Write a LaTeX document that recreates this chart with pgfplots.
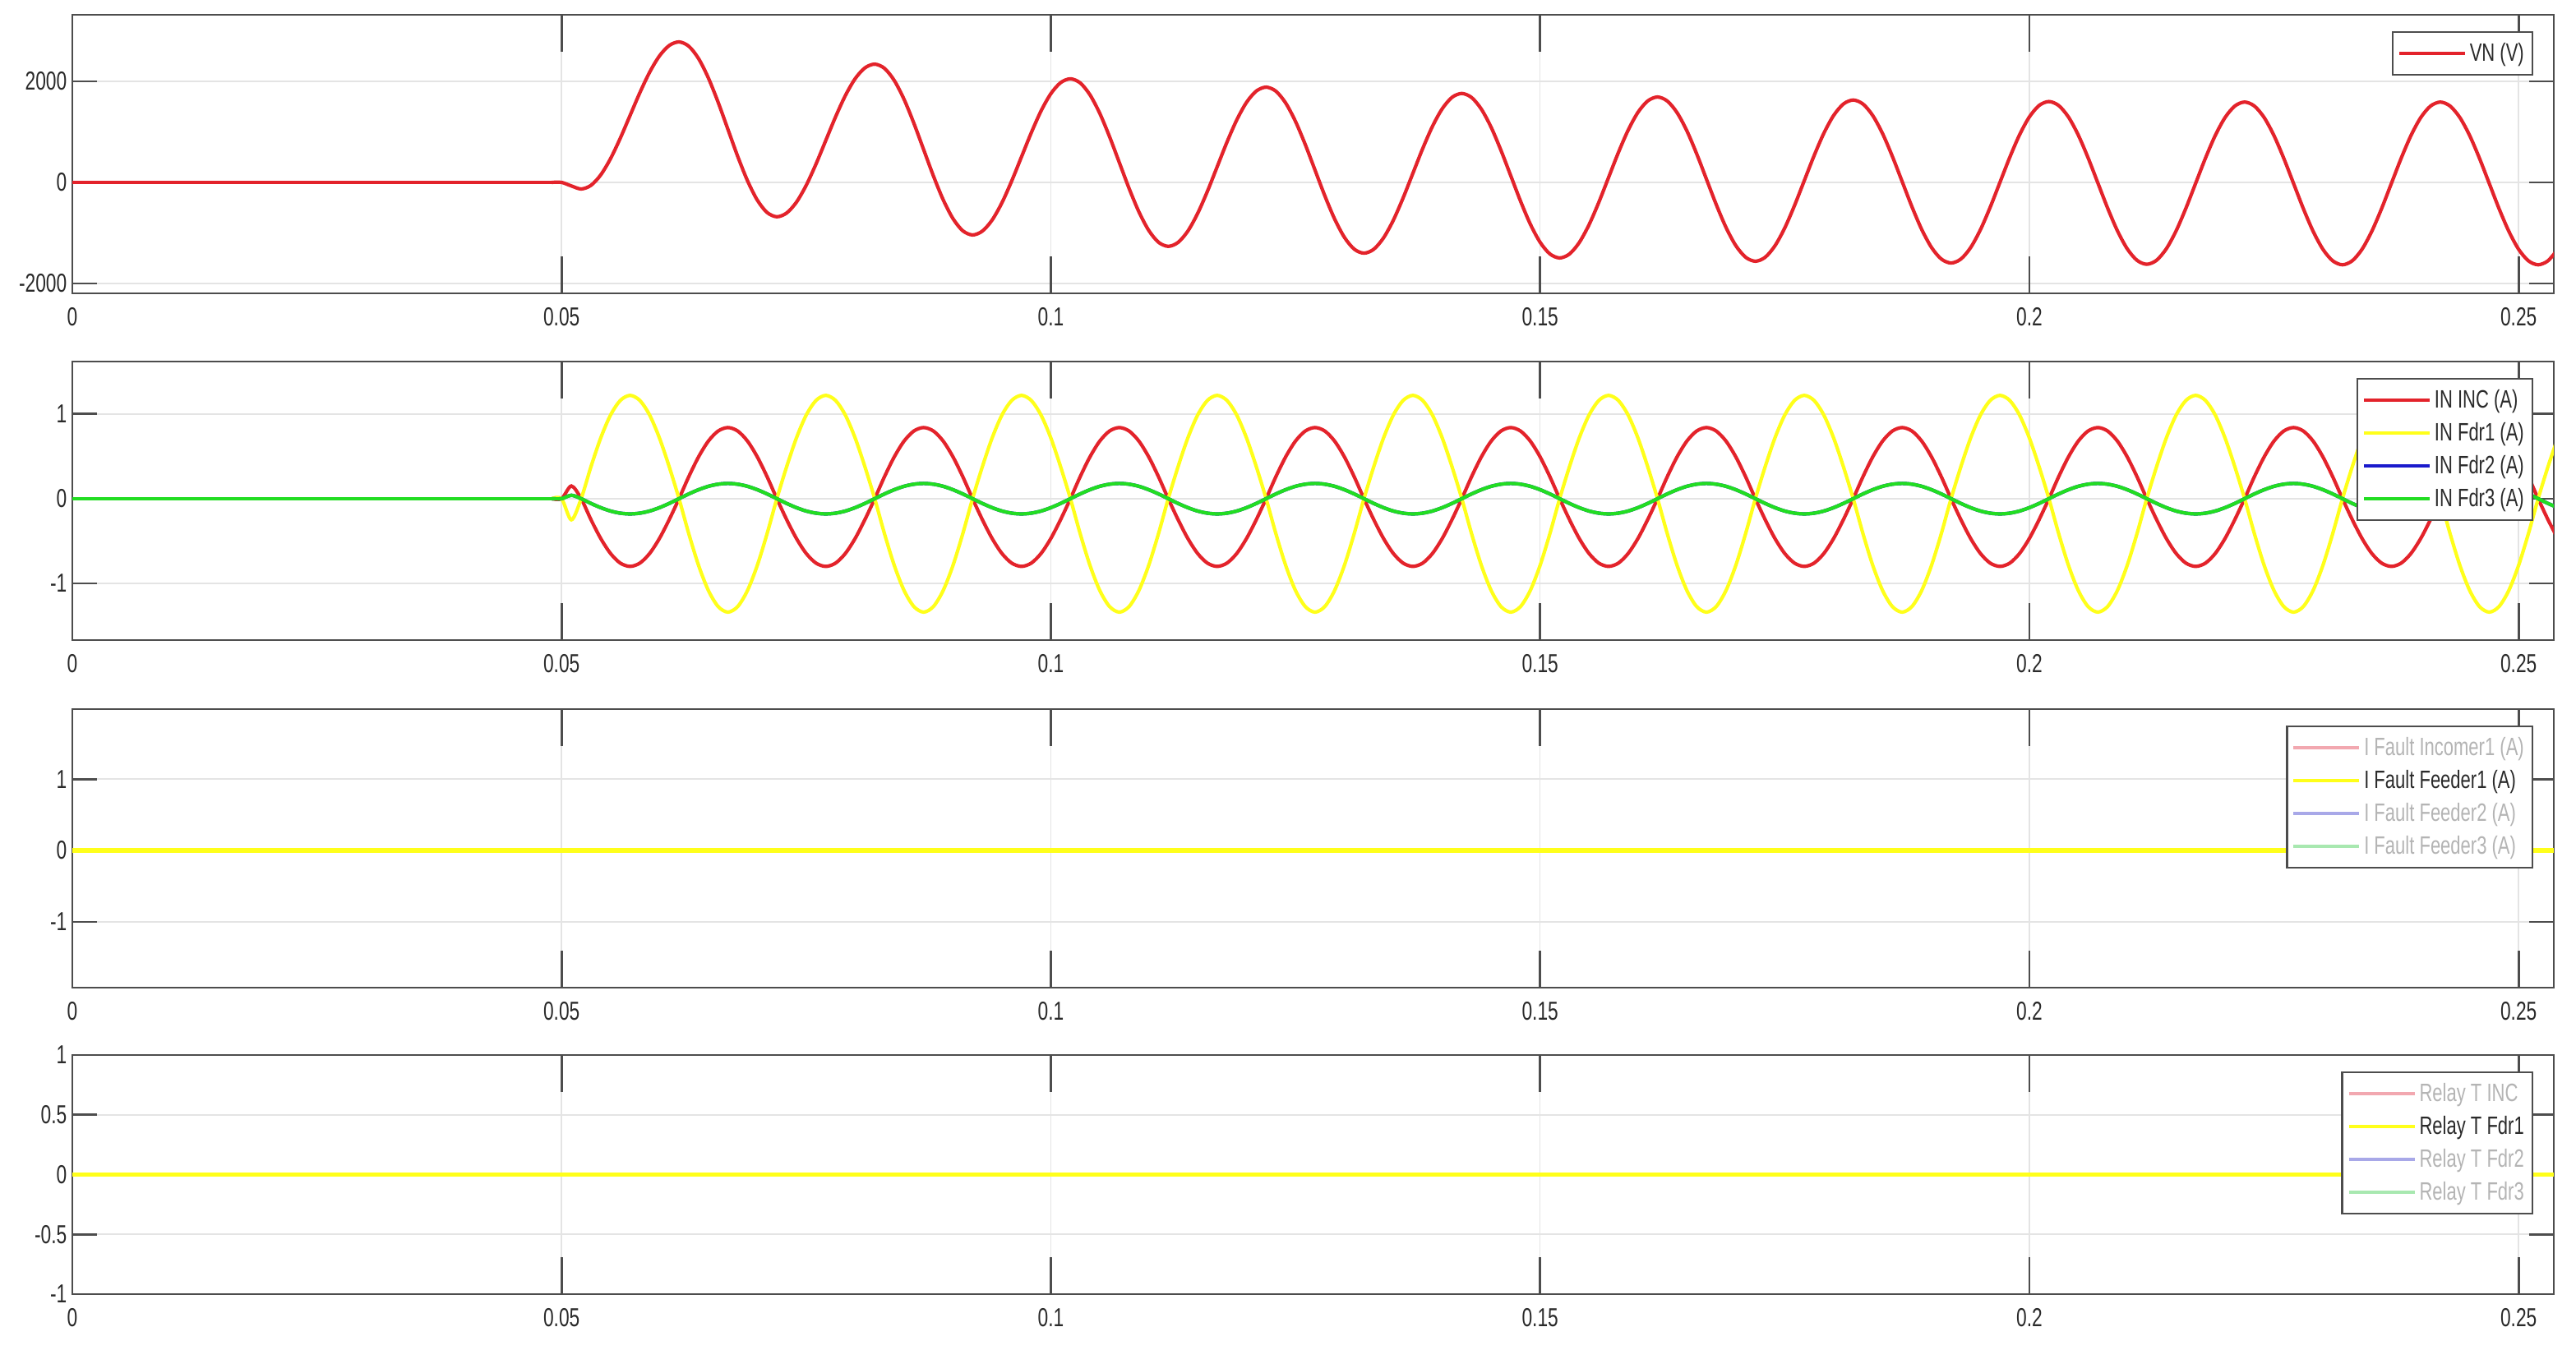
\documentclass[border=0pt]{standalone}
\usepackage{pgfplots}
\pgfplotsset{compat=1.18}
\usepackage{pgfplotstable}
\usepackage{fontspec}
\setmainfont{Liberation Sans}[FakeStretch=0.72]
\definecolor{mred}{HTML}{E3232B}
\definecolor{myel}{HTML}{FFFF1A}
\definecolor{mblue}{HTML}{1A1ACC}
\definecolor{mgreen}{HTML}{22DD22}
\definecolor{axgray}{HTML}{4D4D4D}
\definecolor{gridgray}{HTML}{E4E4E4}
\definecolor{txt}{HTML}{2A2A2A}
\definecolor{fadetxt}{HTML}{B4B4B4}
\definecolor{fred}{HTML}{F2A8B0}
\definecolor{fblue}{HTML}{A8A8E8}
\definecolor{fgreen}{HTML}{A8E8B0}

\pgfplotstableread{
t inc fa fc
0.049 0 0 0
0.050 0 0 0
0.051 0.15 -0.25 0.04
0.052 0 0 0
0.053 -0.247 0.377 -0.056
0.054 -0.470 0.717 -0.106
0.055 -0.647 0.987 -0.146
0.056 -0.761 1.160 -0.171
0.057 -0.800 1.220 -0.180
0.058 -0.761 1.160 -0.171
0.059 -0.647 0.987 -0.146
0.060 -0.470 0.717 -0.106
0.061 -0.247 0.377 -0.056
0.062 0 0 0
0.063 0.260 -0.414 0.056
0.064 0.494 -0.788 0.106
0.065 0.680 -1.084 0.146
0.066 0.799 -1.274 0.171
0.067 0.840 -1.340 0.180
0.068 0.799 -1.274 0.171
0.069 0.680 -1.084 0.146
0.070 0.494 -0.788 0.106
0.071 0.260 -0.414 0.056
0.072 0 0 0
0.073 -0.247 0.377 -0.056
0.074 -0.470 0.717 -0.106
0.075 -0.647 0.987 -0.146
0.076 -0.761 1.160 -0.171
0.077 -0.800 1.220 -0.180
0.078 -0.761 1.160 -0.171
0.079 -0.647 0.987 -0.146
0.080 -0.470 0.717 -0.106
0.081 -0.247 0.377 -0.056
0.082 0 0 0
0.083 0.260 -0.414 0.056
0.084 0.494 -0.788 0.106
0.085 0.680 -1.084 0.146
0.086 0.799 -1.274 0.171
0.087 0.840 -1.340 0.180
0.088 0.799 -1.274 0.171
0.089 0.680 -1.084 0.146
0.090 0.494 -0.788 0.106
0.091 0.260 -0.414 0.056
0.092 0 0 0
0.093 -0.247 0.377 -0.056
0.094 -0.470 0.717 -0.106
0.095 -0.647 0.987 -0.146
0.096 -0.761 1.160 -0.171
0.097 -0.800 1.220 -0.180
0.098 -0.761 1.160 -0.171
0.099 -0.647 0.987 -0.146
0.100 -0.470 0.717 -0.106
0.101 -0.247 0.377 -0.056
0.102 0 0 0
0.103 0.260 -0.414 0.056
0.104 0.494 -0.788 0.106
0.105 0.680 -1.084 0.146
0.106 0.799 -1.274 0.171
0.107 0.840 -1.340 0.180
0.108 0.799 -1.274 0.171
0.109 0.680 -1.084 0.146
0.110 0.494 -0.788 0.106
0.111 0.260 -0.414 0.056
0.112 0 0 0
0.113 -0.247 0.377 -0.056
0.114 -0.470 0.717 -0.106
0.115 -0.647 0.987 -0.146
0.116 -0.761 1.160 -0.171
0.117 -0.800 1.220 -0.180
0.118 -0.761 1.160 -0.171
0.119 -0.647 0.987 -0.146
0.120 -0.470 0.717 -0.106
0.121 -0.247 0.377 -0.056
0.122 0 0 0
0.123 0.260 -0.414 0.056
0.124 0.494 -0.788 0.106
0.125 0.680 -1.084 0.146
0.126 0.799 -1.274 0.171
0.127 0.840 -1.340 0.180
0.128 0.799 -1.274 0.171
0.129 0.680 -1.084 0.146
0.130 0.494 -0.788 0.106
0.131 0.260 -0.414 0.056
0.132 0 0 0
0.133 -0.247 0.377 -0.056
0.134 -0.470 0.717 -0.106
0.135 -0.647 0.987 -0.146
0.136 -0.761 1.160 -0.171
0.137 -0.800 1.220 -0.180
0.138 -0.761 1.160 -0.171
0.139 -0.647 0.987 -0.146
0.140 -0.470 0.717 -0.106
0.141 -0.247 0.377 -0.056
0.142 0 0 0
0.143 0.260 -0.414 0.056
0.144 0.494 -0.788 0.106
0.145 0.680 -1.084 0.146
0.146 0.799 -1.274 0.171
0.147 0.840 -1.340 0.180
0.148 0.799 -1.274 0.171
0.149 0.680 -1.084 0.146
0.150 0.494 -0.788 0.106
0.151 0.260 -0.414 0.056
0.152 0 0 0
0.153 -0.247 0.377 -0.056
0.154 -0.470 0.717 -0.106
0.155 -0.647 0.987 -0.146
0.156 -0.761 1.160 -0.171
0.157 -0.800 1.220 -0.180
0.158 -0.761 1.160 -0.171
0.159 -0.647 0.987 -0.146
0.160 -0.470 0.717 -0.106
0.161 -0.247 0.377 -0.056
0.162 0 0 0
0.163 0.260 -0.414 0.056
0.164 0.494 -0.788 0.106
0.165 0.680 -1.084 0.146
0.166 0.799 -1.274 0.171
0.167 0.840 -1.340 0.180
0.168 0.799 -1.274 0.171
0.169 0.680 -1.084 0.146
0.170 0.494 -0.788 0.106
0.171 0.260 -0.414 0.056
0.172 0 0 0
0.173 -0.247 0.377 -0.056
0.174 -0.470 0.717 -0.106
0.175 -0.647 0.987 -0.146
0.176 -0.761 1.160 -0.171
0.177 -0.800 1.220 -0.180
0.178 -0.761 1.160 -0.171
0.179 -0.647 0.987 -0.146
0.180 -0.470 0.717 -0.106
0.181 -0.247 0.377 -0.056
0.182 0 0 0
0.183 0.260 -0.414 0.056
0.184 0.494 -0.788 0.106
0.185 0.680 -1.084 0.146
0.186 0.799 -1.274 0.171
0.187 0.840 -1.340 0.180
0.188 0.799 -1.274 0.171
0.189 0.680 -1.084 0.146
0.190 0.494 -0.788 0.106
0.191 0.260 -0.414 0.056
0.192 0 0 0
0.193 -0.247 0.377 -0.056
0.194 -0.470 0.717 -0.106
0.195 -0.647 0.987 -0.146
0.196 -0.761 1.160 -0.171
0.197 -0.800 1.220 -0.180
0.198 -0.761 1.160 -0.171
0.199 -0.647 0.987 -0.146
0.200 -0.470 0.717 -0.106
0.201 -0.247 0.377 -0.056
0.202 0 0 0
0.203 0.260 -0.414 0.056
0.204 0.494 -0.788 0.106
0.205 0.680 -1.084 0.146
0.206 0.799 -1.274 0.171
0.207 0.840 -1.340 0.180
0.208 0.799 -1.274 0.171
0.209 0.680 -1.084 0.146
0.210 0.494 -0.788 0.106
0.211 0.260 -0.414 0.056
0.212 0 0 0
0.213 -0.247 0.377 -0.056
0.214 -0.470 0.717 -0.106
0.215 -0.647 0.987 -0.146
0.216 -0.761 1.160 -0.171
0.217 -0.800 1.220 -0.180
0.218 -0.761 1.160 -0.171
0.219 -0.647 0.987 -0.146
0.220 -0.470 0.717 -0.106
0.221 -0.247 0.377 -0.056
0.222 0 0 0
0.223 0.260 -0.414 0.056
0.224 0.494 -0.788 0.106
0.225 0.680 -1.084 0.146
0.226 0.799 -1.274 0.171
0.227 0.840 -1.340 0.180
0.228 0.799 -1.274 0.171
0.229 0.680 -1.084 0.146
0.230 0.494 -0.788 0.106
0.231 0.260 -0.414 0.056
0.232 0 0 0
0.233 -0.247 0.377 -0.056
0.234 -0.470 0.717 -0.106
0.235 -0.647 0.987 -0.146
0.236 -0.761 1.160 -0.171
0.237 -0.800 1.220 -0.180
0.238 -0.761 1.160 -0.171
0.239 -0.647 0.987 -0.146
0.240 -0.470 0.717 -0.106
0.241 -0.247 0.377 -0.056
0.242 0 0 0
0.243 0.260 -0.414 0.056
0.244 0.494 -0.788 0.106
0.245 0.680 -1.084 0.146
0.246 0.799 -1.274 0.171
0.247 0.840 -1.340 0.180
0.248 0.799 -1.274 0.171
0.249 0.680 -1.084 0.146
0.250 0.494 -0.788 0.106
0.251 0.260 -0.414 0.056
0.252 0 0 0
0.253 -0.247 0.377 -0.056
0.254 -0.470 0.717 -0.106
}\tblII

\pgfplotsset{
  mscope/.style={
    scale only axis, width=301.9mm,
    xmin=0, xmax=0.2536,
    xtick={0,0.05,0.1,0.15,0.2,0.25},
    xticklabels={0,0.05,0.1,0.15,0.2,0.25},
    grid=major,
    major grid style={gridgray, line width=0.45pt},
    axis line style={axgray, line width=0.8pt},
    tick align=inside, tick pos=both,
    major tick length=3mm,
    xtick style={axgray, line width=0.8pt, /pgfplots/major tick length=4.5mm},
    ytick style={axgray, line width=0.8pt},
    ticklabel style={font=\fontsize{9}{10}\selectfont, text=txt},
    xticklabel style={inner sep=0pt, yshift=-1.7mm},
    yticklabel style={inner sep=0pt, xshift=-0.6mm},
    legend cell align=left,
    legend style={at={(1,1)}, anchor=north east, xshift=-2.5mm, yshift=-2mm,
      draw=axgray, line width=0.7pt, fill=white,
      font=\fontsize{8.7}{10}\selectfont, text=txt,
      inner xsep=0.6mm, inner ysep=0.6mm,
      nodes={inner sep=0.4mm, text height=2.5mm, text depth=0.7mm}, row sep=0pt},
    legend image code/.code={\draw[#1, line width=1.1pt] (0mm,0mm) -- (8mm,0mm);},
  }
}

\begin{document}
\begin{tikzpicture}
\useasboundingbox (0,0) rectangle (313.4mm,164.2mm);

% Panel 1: VN
\begin{axis}[mscope, at={(8.8mm,128.5mm)}, anchor=south west, height=33.9mm,
  ymin=-2195, ymax=3317, ytick={-2000,0,2000}, yticklabels={-2000,0,2000}]
\addplot[mred, line width=1.2pt, smooth] coordinates {
(0.049,0) (0.050,0) (0.051,-70) (0.052,-130)
(0.053,-59) (0.054,148) (0.055,469) (0.056,875) (0.057,1325) (0.058,1775) (0.059,2181) (0.060,2502) (0.061,2709) (0.062,2780)
(0.063,2695) (0.064,2450) (0.065,2067) (0.066,1585) (0.067,1050) (0.068,515) (0.069,33) (0.070,-350) (0.071,-595) (0.072,-680)
(0.073,-606) (0.074,-392) (0.075,-58) (0.076,363) (0.077,830) (0.078,1297) (0.079,1718) (0.080,2052) (0.081,2266) (0.082,2340)
(0.083,2257) (0.084,2017) (0.085,1644) (0.086,1172) (0.087,650) (0.088,128) (0.089,-344) (0.090,-717) (0.091,-957) (0.092,-1040)
(0.093,-964) (0.094,-745) (0.095,-404) (0.096,28) (0.097,505) (0.098,982) (0.099,1414) (0.100,1755) (0.101,1974) (0.102,2050)
(0.103,1969) (0.104,1733) (0.105,1367) (0.106,905) (0.107,393) (0.108,-120) (0.109,-582) (0.110,-948) (0.111,-1184) (0.112,-1265)
(0.113,-1188) (0.114,-964) (0.115,-616) (0.116,-177) (0.117,310) (0.118,797) (0.119,1236) (0.120,1584) (0.121,1808) (0.122,1885)
(0.123,1805) (0.124,1571) (0.125,1208) (0.126,750) (0.127,243) (0.128,-265) (0.129,-723) (0.130,-1086) (0.131,-1320) (0.132,-1400)
(0.133,-1323) (0.134,-1098) (0.135,-749) (0.136,-308) (0.137,180) (0.138,668) (0.139,1109) (0.140,1458) (0.141,1683) (0.142,1760)
(0.143,1680) (0.144,1449) (0.145,1090) (0.146,635) (0.147,133) (0.148,-370) (0.149,-825) (0.150,-1184) (0.151,-1415) (0.152,-1495)
(0.153,-1417) (0.154,-1191) (0.155,-839) (0.156,-395) (0.157,98) (0.158,590) (0.159,1034) (0.160,1386) (0.161,1612) (0.162,1690)
(0.163,1610) (0.164,1380) (0.165,1021) (0.166,567) (0.167,65) (0.168,-437) (0.169,-891) (0.170,-1250) (0.171,-1480) (0.172,-1560)
(0.173,-1482) (0.174,-1255) (0.175,-903) (0.176,-458) (0.177,35) (0.178,528) (0.179,973) (0.180,1325) (0.181,1552) (0.182,1630)
(0.183,1551) (0.184,1322) (0.185,966) (0.186,516) (0.187,18) (0.188,-481) (0.189,-931) (0.190,-1287) (0.191,-1516) (0.192,-1595)
(0.193,-1517) (0.194,-1290) (0.195,-937) (0.196,-491) (0.197,3) (0.198,496) (0.199,942) (0.200,1295) (0.201,1522) (0.202,1600)
(0.203,1521) (0.204,1293) (0.205,937) (0.206,488) (0.207,-10) (0.208,-508) (0.209,-957) (0.210,-1313) (0.211,-1541) (0.212,-1620)
(0.213,-1541) (0.214,-1313) (0.215,-959) (0.216,-511) (0.217,-15) (0.218,481) (0.219,929) (0.220,1283) (0.221,1511) (0.222,1590)
(0.223,1511) (0.224,1283) (0.225,927) (0.226,478) (0.227,-20) (0.228,-518) (0.229,-967) (0.230,-1323) (0.231,-1551) (0.232,-1630)
(0.233,-1551) (0.234,-1323) (0.235,-967) (0.236,-518) (0.237,-20) (0.238,478) (0.239,927) (0.240,1283) (0.241,1511) (0.242,1590)
(0.243,1511) (0.244,1283) (0.245,927) (0.246,478) (0.247,-20) (0.248,-518) (0.249,-967) (0.250,-1323) (0.251,-1551) (0.252,-1630)
(0.253,-1551) (0.254,-1323)
};
\addlegendentry{VN (V)}
\addplot[mred, line width=1.2pt, forget plot] coordinates {(0,0) (0.025,0) (0.0495,0)};
\end{axis}

% Panel 2: neutral currents
\begin{axis}[mscope, at={(8.8mm,86.3mm)}, anchor=south west, height=33.9mm,
  ymin=-1.67, ymax=1.62, ytick={-1,0,1}, yticklabels={-1,0,1}]
\addplot[mred, line width=1.2pt, smooth] table[x=t, y=inc] {\tblII};
\addlegendentry{IN INC (A)}
\addplot[myel, line width=1.2pt, smooth] table[x=t, y=fa] {\tblII};
\addlegendentry{IN Fdr1 (A)}
\addplot[mblue, line width=1.2pt, smooth] table[x=t, y=fc] {\tblII};
\addlegendentry{IN Fdr2 (A)}
\addplot[mgreen, line width=1.2pt, smooth] table[x=t, y=fc] {\tblII};
\addlegendentry{IN Fdr3 (A)}
\addplot[mgreen, line width=1.2pt, forget plot] coordinates {(0,0) (0.025,0) (0.0495,0)};
\end{axis}

% Panel 3: fault currents
\begin{axis}[mscope, at={(8.8mm,44.0mm)}, anchor=south west, height=33.9mm,
  ymin=-1.92, ymax=1.98, ytick={-1,0,1}, yticklabels={-1,0,1}]
\addlegendimage{fred}
\addlegendentry{\textcolor{fadetxt}{I Fault Incomer1 (A)}}
\addplot[myel, line width=1.5pt] coordinates {(0,0) (0.1,0) (0.2,0) (0.2536,0)};
\addlegendentry{I Fault Feeder1 (A)}
\addlegendimage{fblue}
\addlegendentry{\textcolor{fadetxt}{I Fault Feeder2 (A)}}
\addlegendimage{fgreen}
\addlegendentry{\textcolor{fadetxt}{I Fault Feeder3 (A)}}
\end{axis}

% Panel 4: relay trips
\begin{axis}[mscope, at={(8.8mm,6.7mm)}, anchor=south west, height=29.1mm,
  ymin=-1, ymax=1, ytick={-1,-0.5,0,0.5,1}, yticklabels={-1,-0.5,0,0.5,1}]
\addlegendimage{fred}
\addlegendentry{\textcolor{fadetxt}{Relay T INC}}
\addplot[myel, line width=1.5pt] coordinates {(0,0) (0.1,0) (0.2,0) (0.2536,0)};
\addlegendentry{Relay T Fdr1}
\addlegendimage{fblue}
\addlegendentry{\textcolor{fadetxt}{Relay T Fdr2}}
\addlegendimage{fgreen}
\addlegendentry{\textcolor{fadetxt}{Relay T Fdr3}}
\end{axis}
\end{tikzpicture}
\end{document}
